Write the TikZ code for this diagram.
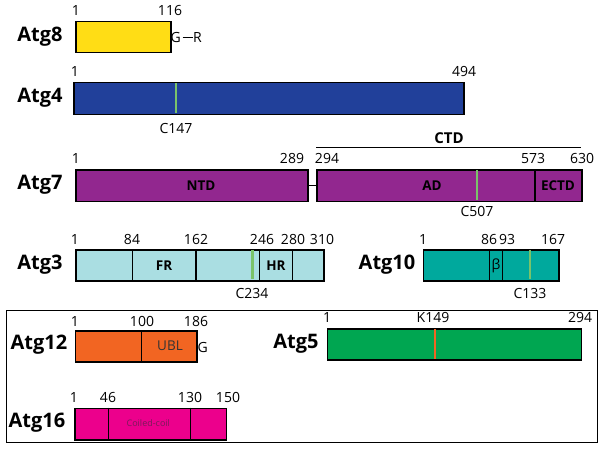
\documentclass[tikz,border=0pt]{standalone}
\usepackage{fontspec}
\setmainfont{Open Sans}
\begin{document}
\begin{tikzpicture}[x=1pt,y=-1pt,
  box/.style={draw=black,line width=1.5pt,inner sep=0pt,anchor=north west},
  pname/.style={font=\fontsize{20}{21}\selectfont\bfseries,inner sep=0pt},
  num/.style={font=\fontsize{14}{15}\selectfont,inner sep=0pt,anchor=base},
  dom/.style={font=\fontsize{13.5}{14}\selectfont\bfseries,inner sep=0pt},
  resmark/.style={line width=2.2pt},
  div/.style={line width=1.3pt}]
\useasboundingbox (0,0) rectangle (604,449);
\definecolor{cyel}{HTML}{FFDD15}
\definecolor{cblue}{HTML}{21409A}
\definecolor{cpur}{HTML}{92278F}
\definecolor{ccyan}{HTML}{AADEE2}
\definecolor{cteal}{HTML}{00A99D}
\definecolor{corange}{HTML}{F26522}
\definecolor{cgreen}{HTML}{00A651}
\definecolor{cmag}{HTML}{EC008C}
\definecolor{cmark}{HTML}{7AC36A}
\definecolor{cdkmag}{HTML}{7A1A5A}
% Atg8
\node[pname] (l8) at (40,37) {Atg8};
\node[box,fill=cyel,minimum width=95pt,minimum height=31pt] (b8) at (75,21) {};
\node[num] (n8a) at (76,15.5) {1};
\node[num] (n8b) at (170,15.5) {116};
\node[font=\fontsize{14}{15}\selectfont,inner sep=0pt,anchor=west] (g8) at (170.5,38) {G};
\node[font=\fontsize{14}{15}\selectfont,inner sep=0pt,anchor=west] (r8) at (193,38) {R};
\draw[line width=1.4pt] (g8.east) ++(1.5,-0.5) coordinate (d1) -- (r8.west |- d1);
% Atg4
\node[pname] (l4) at (40,98) {Atg4};
\node[box,fill=cblue,minimum width=390pt,minimum height=32pt] (b4) at (73,82) {};
\draw[resmark,cmark] (176,83) -- (176,113);
\node[num] (n4a) at (75,77) {1};
\node[num] (n4b) at (464,77) {494};
\node[num] (c4) at (176,134) {C147};
% Atg7
\node[pname] (l7) at (40,185) {Atg7};
\node[box,fill=cpur,minimum width=232pt,minimum height=31.5pt] (ntd) at (75,169.3) {};
\node[box,fill=cpur,minimum width=265pt,minimum height=31.5pt] (ad) at (316,169.3) {};
\draw[line width=1.3pt] (ntd.east) -- (ad.west);
\draw[div] (535,169.3) -- (535,200.8);
\draw[resmark,cmark] (477,170) -- (477,200);
\node[dom] at (201,186) {NTD};
\node[dom] at (432,186) {AD};
\node[dom] at (558,186) {ECTD};
\draw[line width=1.3pt] (316,147.5) -- (581,147.5);
\node[font=\fontsize{15}{16}\selectfont\bfseries,inner sep=0pt,anchor=base] at (449,143) {CTD};
\node[num] at (76,163.5) {1};
\node[num] at (292,163.5) {289};
\node[num] at (327,163.5) {294};
\node[num] at (533,163.5) {573};
\node[num] at (582,163.5) {630};
\node[num] at (477,216) {C507};
% Atg3
\node[pname] (l3) at (40,265) {Atg3};
\node[box,fill=ccyan,minimum width=248pt,minimum height=31pt] (b3) at (75,249) {};
\foreach \xx in {132.3,196,259.3,292.3} \draw[div] (\xx,249) -- (\xx,280);
\draw[resmark,cmark] (252.5,249.8) -- (252.5,279.2);
\node[dom] at (164,265.5) {FR};
\node[dom] at (276,265.5) {HR};
\node[num] at (75,244) {1};
\node[num] at (132,244) {84};
\node[num] at (196,244) {162};
\node[num] at (262,244) {246};
\node[num] at (293,244) {280};
\node[num] at (322,244) {310};
\node[num] at (252,298) {C234};
% Atg10
\node[pname] (l10) at (387,265) {Atg10};
\node[box,fill=cteal,minimum width=135.6pt,minimum height=31pt] (b10) at (422.7,249) {};
\foreach \xx in {489.3,502.7} \draw[div] (\xx,249) -- (\xx,280);
\draw[resmark,cmark] (530.3,249.8) -- (530.3,279.2);
\node[font=\fontsize{14}{15}\selectfont,inner sep=0pt] at (496,265.5) {β};
\node[num] at (423,244) {1};
\node[num] at (489,244) {86};
\node[num] at (507,244) {93};
\node[num] at (553,244) {167};
\node[num] at (530,298) {C133};
% outer box
\draw[line width=1pt] (6,310) rectangle (597,442.7);
% Atg12
\node[pname] (l12) at (39,345) {Atg12};
\node[box,fill=corange,minimum width=121.3pt,minimum height=31pt] (b12) at (74.7,330) {};
\draw[div] (141.7,330) -- (141.7,361);
\node[font=\fontsize{13.5}{14}\selectfont,inner sep=0pt,text=black!80] at (170,346) {UBL};
\node[font=\fontsize{14}{15}\selectfont,inner sep=0pt,anchor=west] at (197.5,347) {G};
\node[num] at (75,326) {1};
\node[num] at (142,326) {100};
\node[num] at (196,326) {186};
% Atg5
\node[pname] (l5) at (296,344) {Atg5};
\node[box,fill=cgreen,minimum width=254pt,minimum height=31pt] (b5) at (326.7,328.3) {};
\draw[resmark,corange] (435,329) -- (435,358.6);
\node[num] at (327,322.5) {1};
\node[num] at (433,322.5) {K149};
\node[num] at (580,322.5) {294};
% Atg16
\node[pname] (l16) at (37,423) {Atg16};
\node[box,fill=cmag,minimum width=151.7pt,minimum height=31.3pt] (b16) at (74,407.7) {};
\foreach \xx in {108.3,190.3} \draw[div] (\xx,407.7) -- (\xx,439);
\node[font=\fontsize{9}{10}\selectfont,inner sep=0pt,text=cdkmag] at (148.3,423) {Coiled-coil};
\node[num] at (74,402.5) {1};
\node[num] at (108,402.5) {46};
\node[num] at (190,402.5) {130};
\node[num] at (228,402.5) {150};
\end{tikzpicture}
\end{document}
